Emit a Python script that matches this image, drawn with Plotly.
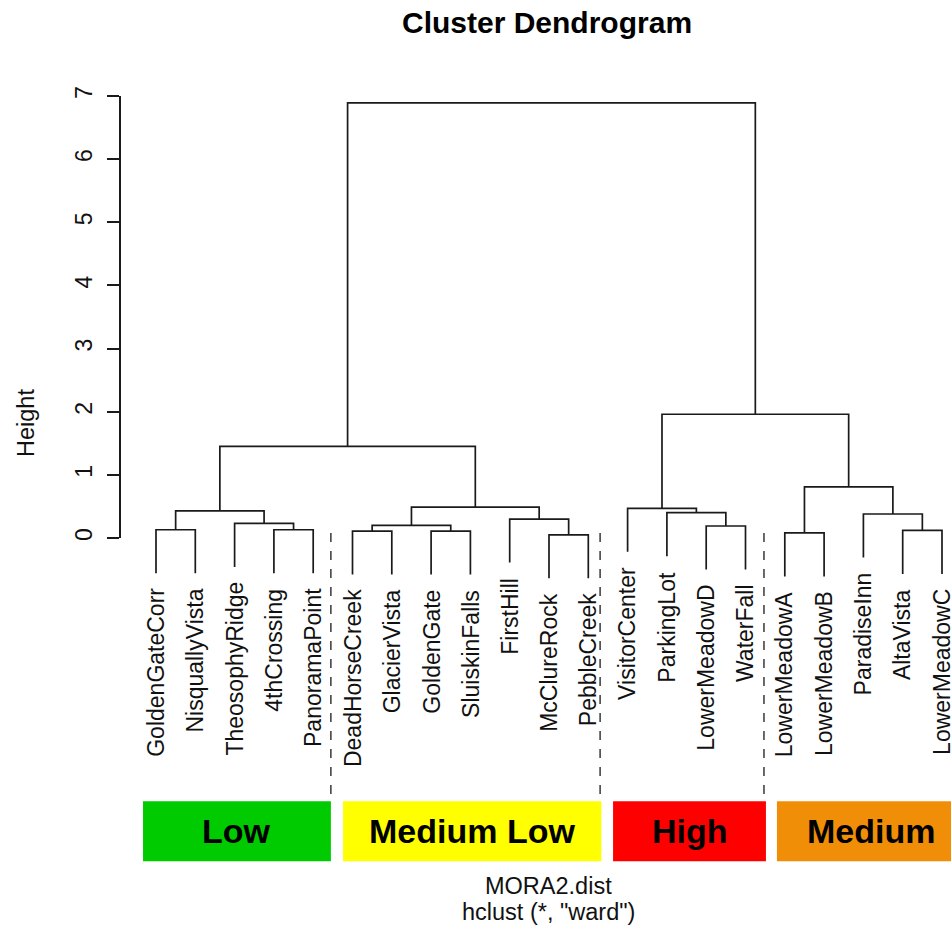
import plotly.graph_objects as go

# ---------------- data ----------------
leaf_labels = ["GoldenGateCorr", "NisquallyVista", "TheosophyRidge", "4thCrossing",
               "PanoramaPoint", "DeadHorseCreek", "GlacierVista", "GoldenGate",
               "SluiskinFalls", "FirstHill", "McClureRock", "PebbleCreek",
               "VisitorCenter", "ParkingLot", "LowerMeadowD", "WaterFall",
               "LowerMeadowA", "LowerMeadowB", "ParadiseInn", "AltaVista", "LowerMeadowC"]

# hclust-style merges: str = leaf, int = earlier merge (1-based)
merge_left = ["McClureRock", "LowerMeadowA", "DeadHorseCreek", "GoldenGate", "AltaVista",
              "GoldenGateCorr", "4thCrossing", "LowerMeadowD", 3, "TheosophyRidge",
              "FirstHill", "ParadiseInn", "ParkingLot", 6, "VisitorCenter", 9, 2, 14, 15, 18]
merge_right = ["PebbleCreek", "LowerMeadowB", "GlacierVista", "SluiskinFalls", "LowerMeadowC",
               "NisquallyVista", "PanoramaPoint", "WaterFall", 4, 7,
               1, 5, 8, 10, 13, 11, 12, 16, 17, 19]
merge_height = [0.05, 0.08, 0.11, 0.11, 0.12, 0.13, 0.13, 0.19, 0.20, 0.23,
                0.30, 0.38, 0.40, 0.43, 0.47, 0.49, 0.81, 1.45, 1.96, 6.89]

group_names = ["Low", "Medium Low", "High", "Medium"]
y_tick_values = [0, 1, 2, 3, 4, 5, 6, 7]
y_tick_text = ["0", "1", "2", "3", "4", "5", "6", "7"]

# ---------------- styling / layout config ----------------
group_colors = ["#00CA00", "#FFFF00", "#FF0000", "#F08E08"]
group_x0 = [0.67, 5.76, 12.63, 16.80]
group_x1 = [5.45, 12.33, 16.52, 21.60]
divider_x = [5.45, 12.30, 16.47]
box_top, box_bottom = -4.17, -5.12
divider_top = 0.08
hang = 0.1 * max(merge_height)

W, H = 951, 928
# plot area in pixels: x 120..951, y 90..870
ML, MR, MT, MB = 120, 0, 90, H - 870
plot_w = W - ML - MR
plot_h = H - MT - MB
px_per_leaf = 39.3
px_per_unit = 63.14
x_min = 1 - (156 - ML) / px_per_leaf
x_max = x_min + plot_w / px_per_leaf
y_max = 7 + (96 - MT) / px_per_unit
y_min = y_max - plot_h / px_per_unit

FONT = "Liberation Sans, Arial, Helvetica, sans-serif"
LINE = "#1a1a1a"

# ---------------- compute dendrogram geometry ----------------
xpos = {name: i + 1 for i, name in enumerate(leaf_labels)}
node_x, node_h = {}, {}
lx, ly = [], []
leaf_end = {}


def child_info(c, parent_h):
    if isinstance(c, str):
        leaf_end[c] = parent_h - hang
        return xpos[c], parent_h - hang
    return node_x[c], node_h[c]


for k, (a, b, h) in enumerate(zip(merge_left, merge_right, merge_height), start=1):
    xa, ya = child_info(a, h)
    xb, yb = child_info(b, h)
    node_x[k] = (xa + xb) / 2
    node_h[k] = h
    lx += [xa, xa, xb, xb, None]
    ly += [ya, h, h, yb, None]

fig = go.Figure()
fig.add_trace(go.Scatter(x=lx, y=ly, mode="lines", line=dict(color=LINE, width=1.7),
                         hoverinfo="skip", showlegend=False))
# invisible trace to hold the visible height axis
fig.add_trace(go.Scatter(x=[x_min], y=[0], yaxis="y2", mode="markers",
                         marker=dict(opacity=0), hoverinfo="skip", showlegend=False))

shapes = []
for x in divider_x:
    shapes.append(dict(type="line", xref="x", yref="y", x0=x, x1=x, y0=divider_top, y1=box_top,
                       line=dict(color=LINE, width=1.3, dash="dash")))
annotations = []
for name, col, x0, x1 in zip(group_names, group_colors, group_x0, group_x1):
    shapes.append(dict(type="rect", xref="x", yref="y", x0=x0, x1=x1, y0=box_bottom, y1=box_top,
                       fillcolor=col, line=dict(width=0), layer="below"))
    annotations.append(dict(x=(x0 + x1) / 2, y=(box_top + box_bottom) / 2, xref="x", yref="y",
                            text="<b>%s</b>" % name, showarrow=False,
                            font=dict(family=FONT, size=34, color="black")))

for name in leaf_labels:
    annotations.append(dict(x=xpos[name], y=leaf_end[name], xref="x", yref="y", text=name,
                            textangle=-90, xanchor="center", yanchor="top", yshift=-13,
                            showarrow=False, font=dict(family=FONT, size=23, color="#111")))


def px_to_paper_x(px):
    return (px - ML) / plot_w


def px_to_paper_y(py):
    return (H - MB - py) / plot_h


annotations += [
    dict(x=px_to_paper_x(547), y=px_to_paper_y(22), xref="paper", yref="paper",
         text="<b>Cluster Dendrogram</b>", showarrow=False, xanchor="center", yanchor="middle",
         font=dict(family=FONT, size=30, color="black")),
    dict(x=px_to_paper_x(548), y=px_to_paper_y(886), xref="paper", yref="paper",
         text="MORA2.dist", showarrow=False, xanchor="center", yanchor="middle",
         font=dict(family=FONT, size=23.5, color="#111")),
    dict(x=px_to_paper_x(548), y=px_to_paper_y(912), xref="paper", yref="paper",
         text='hclust (*, "ward")', showarrow=False, xanchor="center", yanchor="middle",
         font=dict(family=FONT, size=23.5, color="#111")),
    dict(x=px_to_paper_x(26), y=px_to_paper_y(423), xref="paper", yref="paper",
         text="Height", textangle=-90, showarrow=False, xanchor="center", yanchor="middle",
         font=dict(family=FONT, size=23.5, color="#111")),
]

d0 = (0 - y_min) / (y_max - y_min)
d1 = (7 - y_min) / (y_max - y_min)

fig.update_layout(
    width=W, height=H, margin=dict(l=ML, r=MR, t=MT, b=MB, autoexpand=False),
    paper_bgcolor="white", plot_bgcolor="rgba(0,0,0,0)",
    xaxis=dict(range=[x_min, x_max], visible=False, fixedrange=True),
    yaxis=dict(range=[y_min, y_max], visible=False, fixedrange=True),
    yaxis2=dict(range=[0, 7], domain=[d0, d1], anchor="free", position=0,
                showline=True, linecolor=LINE, linewidth=1.5, ticks="outside",
                ticklen=12, tickwidth=1.5, tickcolor=LINE, showgrid=False, zeroline=False,
                tickvals=y_tick_values, ticktext=y_tick_text, tickangle=-90,
                ticklabelstandoff=6,
                tickfont=dict(family=FONT, size=23, color="#111"), fixedrange=True),
    shapes=shapes, annotations=annotations, showlegend=False,
)

fig.write_html("out.html", config={"displayModeBar": False},
               post_script="document.body.style.margin='0';document.body.style.overflow='hidden';")
